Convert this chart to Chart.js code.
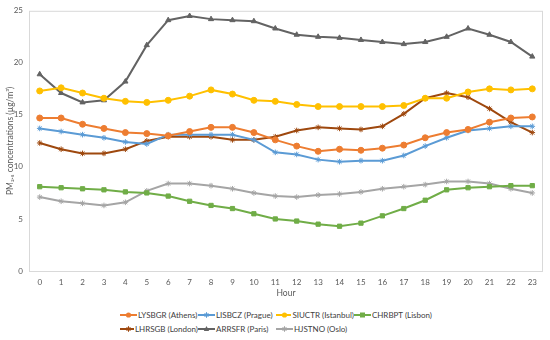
<!DOCTYPE html>
<html>
<head>
<meta charset="utf-8">
<script src="https://cdn.jsdelivr.net/npm/chart.js@4"></script>
<style>
  body { margin: 0; background: #fff; font-family: Lato, sans-serif; }
  #wrap { position: relative; width: 550px; height: 340px; }
  #chart { position: absolute; left: 0; top: 0; }
  #legend {
    position: absolute; left: 120px; top: 309px;
    display: grid; grid-template-columns: 78px 78px 78px 78px;
    row-gap: 2px; font-size: 8px; color: #404040;
  }
  .item { display: flex; align-items: center; white-space: nowrap; height: 12px; }
  .item svg { margin-right: 1px; }
</style>
</head>
<body>
<div id="wrap">
  <canvas id="chart" width="550" height="300"></canvas>
  <div id="legend"></div>
</div>
<script>
// Hour of day
const hours = ['0','1','2','3','4','5','6','7','8','9','10','11','12','13','14','15','16','17','18','19','20','21','22','23'];

// PM2.5 hourly means per station (µg/m3)
const athens   = [14.7, 14.7, 14.1, 13.7, 13.3, 13.2, 13.0, 13.4, 13.8, 13.8, 13.3, 12.6, 12.0, 11.5, 11.7, 11.6, 11.8, 12.1, 12.8, 13.3, 13.6, 14.3, 14.7, 14.8];
const prague   = [13.7, 13.4, 13.1, 12.8, 12.4, 12.2, 13.1, 13.1, 13.1, 13.1, 12.6, 11.4, 11.2, 10.7, 10.5, 10.6, 10.6, 11.1, 12.0, 12.8, 13.5, 13.7, 13.9, 13.9];
const istanbul = [17.3, 17.6, 17.1, 16.6, 16.3, 16.2, 16.4, 16.8, 17.4, 17.0, 16.4, 16.3, 16.0, 15.8, 15.8, 15.8, 15.8, 15.9, 16.6, 16.6, 17.2, 17.5, 17.4, 17.5];
const lisbon   = [8.1, 8.0, 7.9, 7.8, 7.6, 7.5, 7.2, 6.7, 6.3, 6.0, 5.5, 5.0, 4.8, 4.5, 4.3, 4.6, 5.3, 6.0, 6.8, 7.8, 8.0, 8.1, 8.2, 8.2];
const london   = [12.3, 11.7, 11.3, 11.3, 11.7, 12.5, 12.9, 12.9, 12.9, 12.6, 12.6, 12.9, 13.5, 13.8, 13.7, 13.6, 13.9, 15.1, 16.6, 17.1, 16.7, 15.6, 14.3, 13.3];
const paris    = [18.9, 17.1, 16.2, 16.4, 18.2, 21.7, 24.1, 24.5, 24.2, 24.1, 24.0, 23.3, 22.7, 22.5, 22.4, 22.2, 22.0, 21.8, 22.0, 22.5, 23.3, 22.7, 22.0, 20.6];
const oslo     = [7.1, 6.7, 6.5, 6.3, 6.6, 7.7, 8.4, 8.4, 8.2, 7.9, 7.5, 7.2, 7.1, 7.3, 7.4, 7.6, 7.9, 8.1, 8.3, 8.6, 8.6, 8.4, 7.9, 7.5];

const seriesLabels = ['LYSBGR (Athens)', 'LISBCZ (Prague)', 'SIUCTR (Istanbul)', 'CHRBPT (Lisbon)',
                      'LHRSGB (London)', 'ARRSFR (Paris)', 'HJSTNO (Oslo)'];
const seriesData   = [athens, prague, istanbul, lisbon, london, paris, oslo];
const colors = ['#ED7D31', '#5B9BD5', '#FFC000', '#70AD47', '#9E480E', '#636363', '#A5A5A5'];
const markers = ['circle', 'star', 'circle', 'rect', 'star', 'triangle', 'star'];

const datasets = seriesLabels.map((label, i) => ({
  label: label,
  data: seriesData[i],
  borderColor: colors[i],
  backgroundColor: colors[i],
  borderWidth: 2,
  pointStyle: markers[i],
  pointRadius: markers[i] === 'star' ? 2.8 : 3,
  pointBorderWidth: 1,
  tension: 0
}));

// draws the light grey box round the plot area
const plotBox = {
  id: 'plotBox',
  beforeDatasetsDraw(chart) {
    const { ctx, chartArea: a } = chart;
    ctx.save();
    ctx.strokeStyle = '#d9d9d9';
    ctx.lineWidth = 1;
    ctx.strokeRect(a.left + 0.5, a.top + 0.5, a.right - a.left - 1, a.bottom - a.top);
    ctx.restore();
  }
};

const tickColor = '#595959';
new Chart(document.getElementById('chart'), {
  type: 'line',
  data: { labels: hours, datasets: datasets },
  options: {
    responsive: false,
    animation: false,
    layout: { padding: { top: 10, right: 7, left: 0, bottom: 0 } },
    plugins: { legend: { display: false }, tooltip: { enabled: false } },
    scales: {
      x: {
        offset: true,
        grid: { display: false, drawTicks: false },
        border: { display: false },
        ticks: { color: tickColor, font: { family: 'Lato', size: 8 }, padding: 7, maxRotation: 0, autoSkip: false },
        title: { display: true, text: 'Hour', color: tickColor, font: { family: 'Lato', size: 8.5 }, padding: { top: 2, bottom: 2 } },
        afterFit: s => { s.height = 29; }
      },
      y: {
        min: 0,
        max: 25,
        grid: { display: false, drawTicks: false },
        border: { display: false },
        ticks: { stepSize: 5, color: tickColor, font: { family: 'Lato', size: 8 }, padding: 6 },
        title: { display: true, text: 'PM\u2082.\u2085 concentrations (\u00b5g/m\u00b3)', color: tickColor, font: { family: 'Lato', size: 8.5 }, padding: { top: 5, bottom: 0 } },
        afterFit: s => { s.width = 29; }
      }
    }
  },
  plugins: [plotBox]
});

// legend laid out as a 4-column grid, like the original
function swatch(color, shape) {
  let m;
  if (shape === 'circle') m = `<circle cx="8.5" cy="5" r="2.6" fill="${color}"/>`;
  else if (shape === 'rect') m = `<rect x="6" y="2.5" width="5" height="5" fill="${color}"/>`;
  else if (shape === 'triangle') m = `<polygon points="8.5,2 11.2,7 5.8,7" fill="${color}"/>`;
  else m = `<path d="M8.5 2.2V7.8M5.7 5H11.3M6.5 3L10.5 7M10.5 3L6.5 7" stroke="${color}" stroke-width="1"/>`;
  return `<svg width="17" height="10"><line x1="0" y1="5" x2="17" y2="5" stroke="${color}" stroke-width="2"/>${m}</svg>`;
}
const legend = document.getElementById('legend');
seriesLabels.forEach((label, i) => {
  const d = document.createElement('div');
  d.className = 'item';
  d.innerHTML = swatch(colors[i], markers[i]) + '<span>' + label + '</span>';
  legend.appendChild(d);
});
</script>
</body>
</html>
